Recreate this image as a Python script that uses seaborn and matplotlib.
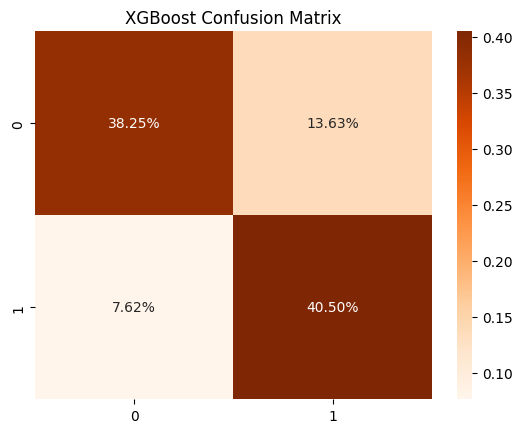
import numpy as np
import matplotlib
matplotlib.use("Agg")
from matplotlib import pyplot as plt
import seaborn as sns

# confusion matrix values (as fraction of all samples)
row_labels = ['0', '1']
col_labels = ['0', '1']
row0 = [0.3825, 0.1363]
row1 = [0.0762, 0.4050]

cm = np.array([row0, row1])

fig = plt.figure(figsize=(5.24, 4.35), dpi=100)
ax = fig.add_axes([0.067, 0.080, 0.757, 0.846])
cax = fig.add_axes([0.872, 0.080, 0.029, 0.846])
sns.heatmap(cm, annot=True, fmt='.2%', cmap='Oranges',
            xticklabels=col_labels, yticklabels=row_labels,
            ax=ax, cbar_ax=cax)
ax.set_title('XGBoost Confusion Matrix')
fig.savefig('out.png', dpi=100)
